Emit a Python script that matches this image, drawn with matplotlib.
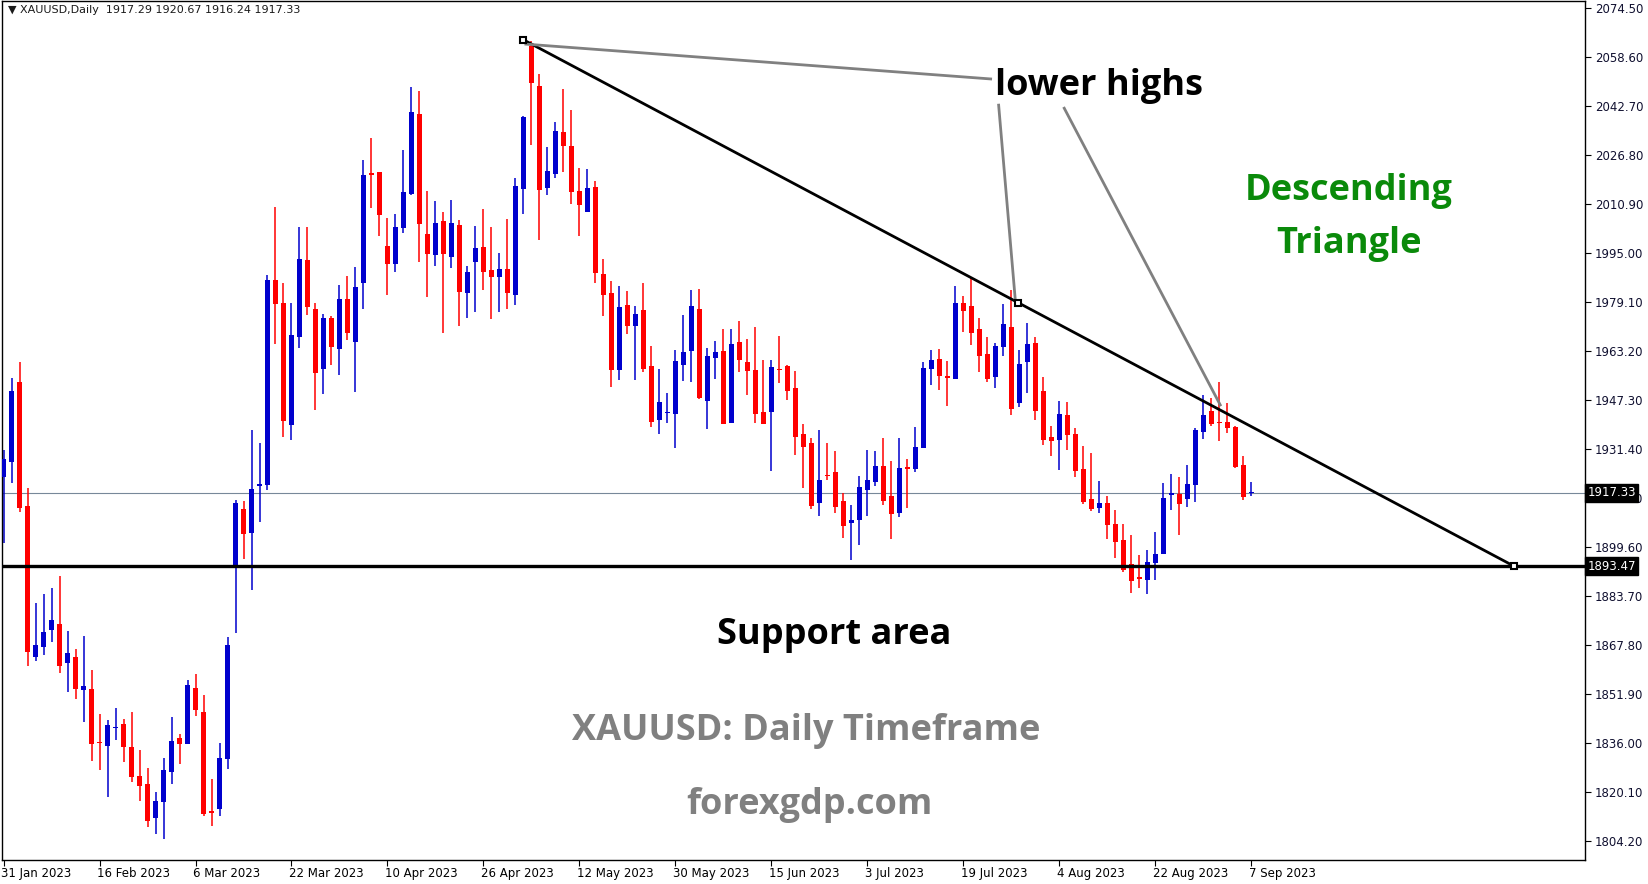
"""XAUUSD daily candlestick chart — descending triangle annotation.

Recreates an MT4-style daily gold chart (31 Jan – 7 Sep 2023) with the
descending trend line, the 1893.47 support line and the text annotations.
Writes out.png (1649x884).
"""
import matplotlib
matplotlib.use("Agg")
import matplotlib.pyplot as plt
import matplotlib.transforms as mtransforms
import numpy as np

# --- data, one daily bar per entry ------------------------------------------
OPENS = [
    1922.5, 1927.4, 1953.1, 1913.0, 1864.1, 1867.3, 1872.7, 1874.7, 1862.1, 1864.0,
    1853.4, 1853.6, 1836.4, 1835.2, 1840.9, 1842.2, 1834.7, 1825.3, 1822.7, 1811.8,
    1817.0, 1826.7, 1837.7, 1835.8, 1853.8, 1846.1, 1813.9, 1814.5, 1830.9, 1893.7,
    1911.9, 1904.1, 1919.5, 1919.7, 1986.2, 1979.0, 1939.4, 1967.9, 1992.9, 1976.8,
    1957.4, 1974.1, 1963.9, 1980.3, 1966.1, 1985.4, 2021.2, 2021.5, 1997.5, 1991.4,
    2003.2, 2014.2, 2040.2, 2001.3, 1994.5, 2005.5, 1993.8, 2004.2, 1982.1, 1992.2,
    1997.0, 1989.6, 1987.3, 1989.9, 1981.5, 2015.9, 2062.3, 2049.3, 2016.3, 2020.7,
    2034.4, 2029.8, 2015.2, 2008.4, 2016.5, 1988.3, 1982.1, 1957.1, 1978.2, 1971.4,
    1976.6, 1958.4, 1940.9, 1943.2, 1942.8, 1958.7, 1963.3, 1976.9, 1947.0, 1961.0,
    1963.3, 1939.9, 1966.2, 1959.7, 1957.1, 1943.5, 1943.5, 1957.5, 1958.4, 1951.3,
    1936.3, 1933.4, 1914.0, 1923.0, 1924.0, 1914.6, 1907.6, 1908.5, 1918.3, 1920.9,
    1925.9, 1916.2, 1910.8, 1925.3, 1925.1, 1931.8, 1957.5, 1960.7, 1954.9, 1954.3,
    1978.9, 1977.9, 1970.4, 1962.3, 1954.8, 1964.6, 1971.1, 1946.4, 1959.7, 1965.9,
    1950.3, 1935.4, 1934.4, 1942.6, 1936.3, 1925.0, 1915.3, 1912.3, 1913.9, 1907.1,
    1901.9, 1894.1, 1889.6, 1889.0, 1894.5, 1897.4, 1916.7, 1916.9, 1915.3, 1919.8,
    1937.0, 1943.8, 1940.2, 1940.2, 1938.6, 1926.3, 1917.29,
]
HIGHS = [
    1931.2, 1954.4, 1959.6, 1918.7, 1881.4, 1884.3, 1886.3, 1890.3, 1872.4, 1866.5,
    1870.8, 1859.9, 1845.4, 1843.5, 1847.3, 1843.8, 1846.1, 1833.8, 1827.8, 1820.1,
    1831.1, 1844.4, 1839.0, 1856.5, 1858.4, 1851.6, 1824.4, 1836.1, 1870.4, 1914.9,
    1914.7, 1937.5, 1933.5, 1988.1, 2010.0, 1985.5, 1979.0, 2003.7, 2003.4, 1978.9,
    1975.4, 1974.7, 1984.6, 1987.6, 1990.5, 2025.3, 2032.5, 2021.5, 2006.5, 2007.8,
    2028.5, 2049.1, 2047.7, 2015.2, 2012.0, 2008.5, 2012.3, 2005.8, 1990.9, 2003.9,
    2009.4, 2003.5, 1995.1, 2006.1, 2019.4, 2039.6, 2064.0, 2053.2, 2029.5, 2037.6,
    2048.3, 2041.5, 2022.7, 2022.4, 2018.5, 1993.2, 1986.0, 1984.4, 1982.8, 1977.9,
    1985.4, 1964.9, 1957.4, 1949.7, 1963.6, 1975.0, 1983.1, 1983.4, 1964.3, 1966.5,
    1970.4, 1970.4, 1973.0, 1967.2, 1971.1, 1960.4, 1960.4, 1968.2, 1958.7, 1956.8,
    1939.6, 1935.0, 1937.6, 1933.4, 1930.8, 1917.3, 1913.3, 1922.7, 1931.2, 1930.8,
    1935.0, 1927.6, 1935.0, 1928.2, 1938.6, 1959.7, 1963.6, 1963.9, 1960.0, 1984.4,
    1981.1, 1986.9, 1974.0, 1967.8, 1965.9, 1978.5, 1983.1, 1963.6, 1972.4, 1968.0,
    1955.0, 1939.1, 1947.1, 1946.7, 1938.3, 1932.5, 1930.2, 1921.1, 1916.2, 1911.7,
    1907.1, 1903.6, 1897.1, 1898.7, 1904.5, 1920.4, 1923.4, 1922.4, 1926.3, 1938.3,
    1949.0, 1948.0, 1953.2, 1946.4, 1938.9, 1929.2, 1920.67,
]
LOWS = [
    1900.9, 1920.6, 1911.1, 1861.1, 1862.8, 1864.6, 1868.9, 1858.7, 1852.7, 1850.3,
    1843.0, 1830.3, 1827.3, 1818.6, 1837.0, 1830.0, 1823.4, 1817.3, 1808.9, 1806.7,
    1804.8, 1822.7, 1829.4, 1835.8, 1844.8, 1812.4, 1809.2, 1812.3, 1827.7, 1871.8,
    1895.7, 1885.6, 1907.7, 1918.1, 1965.7, 1935.3, 1934.3, 1964.4, 1975.1, 1944.2,
    1949.4, 1958.8, 1955.5, 1967.0, 1950.1, 1977.0, 2009.7, 2000.7, 1981.6, 1988.9,
    2001.5, 2013.9, 1992.3, 1980.9, 1990.9, 1969.3, 1990.3, 1971.5, 1974.1, 1976.1,
    1983.1, 1973.8, 1976.0, 1977.0, 1978.2, 2007.9, 2030.2, 1999.3, 2013.9, 2019.5,
    2021.4, 2011.0, 2000.6, 2008.4, 1985.4, 1974.7, 1951.7, 1953.9, 1968.8, 1953.9,
    1956.5, 1938.6, 1936.3, 1939.9, 1931.8, 1953.5, 1953.2, 1947.7, 1938.0, 1954.2,
    1939.6, 1939.9, 1956.5, 1949.0, 1939.9, 1939.6, 1924.3, 1952.9, 1947.4, 1929.5,
    1918.8, 1912.0, 1909.7, 1921.4, 1910.8, 1902.7, 1895.4, 1900.3, 1909.7, 1919.5,
    1913.3, 1902.4, 1909.5, 1912.4, 1924.1, 1931.8, 1952.3, 1950.6, 1945.4, 1954.3,
    1969.5, 1965.2, 1956.5, 1953.2, 1951.3, 1961.7, 1942.5, 1945.1, 1949.7, 1940.9,
    1932.8, 1929.2, 1924.7, 1931.2, 1922.4, 1913.6, 1911.4, 1910.7, 1902.3, 1896.1,
    1891.6, 1884.7, 1886.4, 1884.4, 1889.0, 1897.4, 1911.7, 1903.6, 1912.7, 1914.3,
    1934.7, 1938.9, 1934.1, 1936.7, 1925.3, 1914.9, 1916.24,
]
CLOSES = [
    1928.1, 1950.3, 1912.4, 1865.7, 1867.9, 1872.0, 1876.0, 1861.1, 1865.4, 1853.6,
    1854.5, 1835.7, 1836.0, 1841.9, 1841.3, 1834.8, 1825.1, 1822.2, 1810.8, 1817.2,
    1827.2, 1836.6, 1835.8, 1854.8, 1846.9, 1813.0, 1813.4, 1831.2, 1867.8, 1914.1,
    1903.8, 1918.4, 1920.2, 1986.5, 1978.7, 1940.7, 1968.4, 1993.2, 1977.6, 1956.1,
    1974.1, 1964.5, 1980.3, 1969.3, 1984.1, 2020.5, 2020.5, 2007.3, 1991.4, 2003.7,
    2015.0, 2041.0, 2004.6, 1994.8, 2004.8, 1994.8, 2004.8, 1982.4, 1988.9, 1996.7,
    1988.9, 1987.4, 1989.9, 1982.1, 2016.9, 2039.3, 2050.4, 2015.6, 2021.7, 2034.7,
    2029.8, 2014.9, 2010.7, 2016.2, 1988.6, 1981.5, 1957.1, 1977.6, 1971.4, 1975.3,
    1957.4, 1940.2, 1946.7, 1943.5, 1960.0, 1963.0, 1977.9, 1948.0, 1961.7, 1963.0,
    1939.6, 1965.6, 1960.4, 1956.8, 1942.8, 1939.6, 1958.1, 1957.2, 1950.3, 1935.4,
    1932.1, 1913.0, 1921.4, 1922.7, 1912.8, 1906.6, 1908.3, 1919.1, 1921.4, 1925.9,
    1914.7, 1910.5, 1925.3, 1925.1, 1932.1, 1957.8, 1960.4, 1955.2, 1954.7, 1978.9,
    1976.3, 1969.1, 1961.7, 1954.2, 1964.9, 1972.1, 1944.5, 1959.1, 1965.6, 1943.9,
    1934.4, 1934.2, 1943.0, 1936.0, 1924.3, 1914.3, 1912.0, 1913.9, 1906.8, 1901.3,
    1892.2, 1888.6, 1889.4, 1894.8, 1897.4, 1915.6, 1916.9, 1913.6, 1920.1, 1937.6,
    1942.5, 1939.6, 1939.9, 1938.3, 1925.6, 1915.9, 1917.33,
]
# bars 0, 12, 24 ... carry a date label
DATE_LABELS = [
    "31 Jan 2023", "16 Feb 2023", "6 Mar 2023", "22 Mar 2023", "10 Apr 2023",
    "26 Apr 2023", "12 May 2023", "30 May 2023", "15 Jun 2023", "3 Jul 2023",
    "19 Jul 2023", "4 Aug 2023", "22 Aug 2023", "7 Sep 2023",
]
PRICE_TICKS = [2074.50, 2058.60, 2042.70, 2026.80, 2010.90, 1995.00, 1979.10, 1963.20,
               1947.30, 1931.40, 1915.50, 1899.60, 1883.70, 1867.80, 1851.90, 1836.00,
               1820.10, 1804.20]
SUPPORT = 1893.47
LAST_PRICE = 1917.33
# descending trend line: (bar, price) start / end, mid anchor
TREND = [(65.0, 2064.3), (188.8, 1893.5)]
TREND_MID = (126.8, 1979.0)
# grey "lower highs" pointer lines
POINTERS = [
    [(65.3, 2062.9), (123.4, 2051.6)],
    [(124.4, 2043.1), (126.5, 1979.3)],
    [(132.6, 2042.1), (152.1, 1945.8)],
]

BULL = "#0000cd"
BEAR = "#ff0000"
W, H, DPI = 1649, 884, 100
TEXT_FONT = ["Open Sans", "DejaVu Sans"]
BIG = 26


def draw_candles(ax):
    o, h, l, c = (np.array(a) for a in (OPENS, HIGHS, LOWS, CLOSES))
    x = np.arange(len(o))
    up = c >= o
    colours = np.where(up, BULL, BEAR)
    ax.vlines(x, l, h, colors=colours, linewidth=1.1, zorder=2)
    bottom = np.minimum(o, c)
    height = np.maximum(np.abs(c - o), 0.4)
    ax.bar(x, height, bottom=bottom, width=0.62, color=colours, linewidth=0, zorder=3)


def main():
    fig = plt.figure(figsize=(W / DPI, H / DPI), dpi=DPI)
    ax = fig.add_axes([2 / W, 24 / H, 1583 / W, 859 / H])

    ax.set_xlim(-0.19, 197.7)
    ax.set_ylim(1798.1, 2076.9)

    # reference lines
    ax.axhline(LAST_PRICE, color="#778899", linewidth=0.8, zorder=1)
    ax.axhline(SUPPORT, color="black", linewidth=2.4, zorder=4)

    draw_candles(ax)

    # trend line + anchors
    (x0, y0), (x1, y1) = TREND
    ax.plot([x0, x1], [y0, y1], color="black", linewidth=2, zorder=5)
    sq = dict(marker="s", markersize=5, markerfacecolor="white",
              markeredgecolor="black", markeredgewidth=1.5, linestyle="none", zorder=6)
    ax.plot([x0, x1, TREND_MID[0]], [y0, y1, TREND_MID[1]], **sq)
    for seg in POINTERS:
        xs, ys = zip(*seg)
        ax.plot(xs, ys, color="#808080", linewidth=2, zorder=5)

    # annotations
    ax.text(123.9, 2049.2, "lower highs", fontsize=BIG, fontweight="bold",
            family=TEXT_FONT, color="black", ha="left", va="center")
    ax.text(168.2, 2015.1, "Descending", fontsize=BIG, fontweight="bold",
            family=TEXT_FONT, color="#0a8a0a", ha="center", va="center")
    ax.text(168.2, 1998.0, "Triangle", fontsize=BIG, fontweight="bold",
            family=TEXT_FONT, color="#0a8a0a", ha="center", va="center")
    ax.text(103.9, 1871.1, "Support area", fontsize=BIG, fontweight="bold",
            family=TEXT_FONT, color="black", ha="center", va="center")
    ax.text(100.4, 1840.0, "XAUUSD: Daily Timeframe", fontsize=BIG, fontweight="bold",
            family=TEXT_FONT, color="#808080", ha="center", va="center")
    ax.text(100.7, 1816.1, "forexgdp.com", fontsize=BIG, fontweight="bold",
            family=TEXT_FONT, color="#808080", ha="center", va="center")

    # header
    ax.text(0.004, 0.995, "\u25bc XAUUSD,Daily  1917.29 1920.67 1916.24 1917.33",
            transform=ax.transAxes, fontsize=8, ha="left", va="top", color="#1a1a1a")

    # axes styling (MT4 look)
    for sp in ax.spines.values():
        sp.set_color("black")
        sp.set_linewidth(1)
    ax.yaxis.tick_right()
    ax.set_yticks(PRICE_TICKS)
    ax.set_yticklabels([f"{p:.2f}" for p in PRICE_TICKS])
    ax.tick_params(axis="y", direction="out", length=4, width=0.8, pad=3,
                   labelsize=8.5, labelcolor="#101030")
    ax.set_xticks(np.arange(len(DATE_LABELS)) * 12)
    ax.set_xticklabels(DATE_LABELS)
    ax.tick_params(axis="x", direction="out", length=4, width=0.8, pad=1,
                   labelsize=8.5)
    offset = mtransforms.ScaledTranslation(-2 / 72, 0, fig.dpi_scale_trans)
    for lab in ax.get_xticklabels():
        lab.set_horizontalalignment("left")
        lab.set_transform(lab.get_transform() + offset)

    # price boxes on the right scale
    tr = mtransforms.blended_transform_factory(ax.transAxes, ax.transData)
    for p in (LAST_PRICE, SUPPORT):
        ax.text(1.0015, p, f"{p:.2f}", transform=tr, fontsize=8.5, color="white",
                ha="left", va="center", clip_on=False, zorder=10,
                bbox=dict(boxstyle="square,pad=0.2", facecolor="black", edgecolor="black"))

    fig.savefig("out.png", dpi=DPI, facecolor="white")
    plt.close(fig)


if __name__ == "__main__":
    main()
